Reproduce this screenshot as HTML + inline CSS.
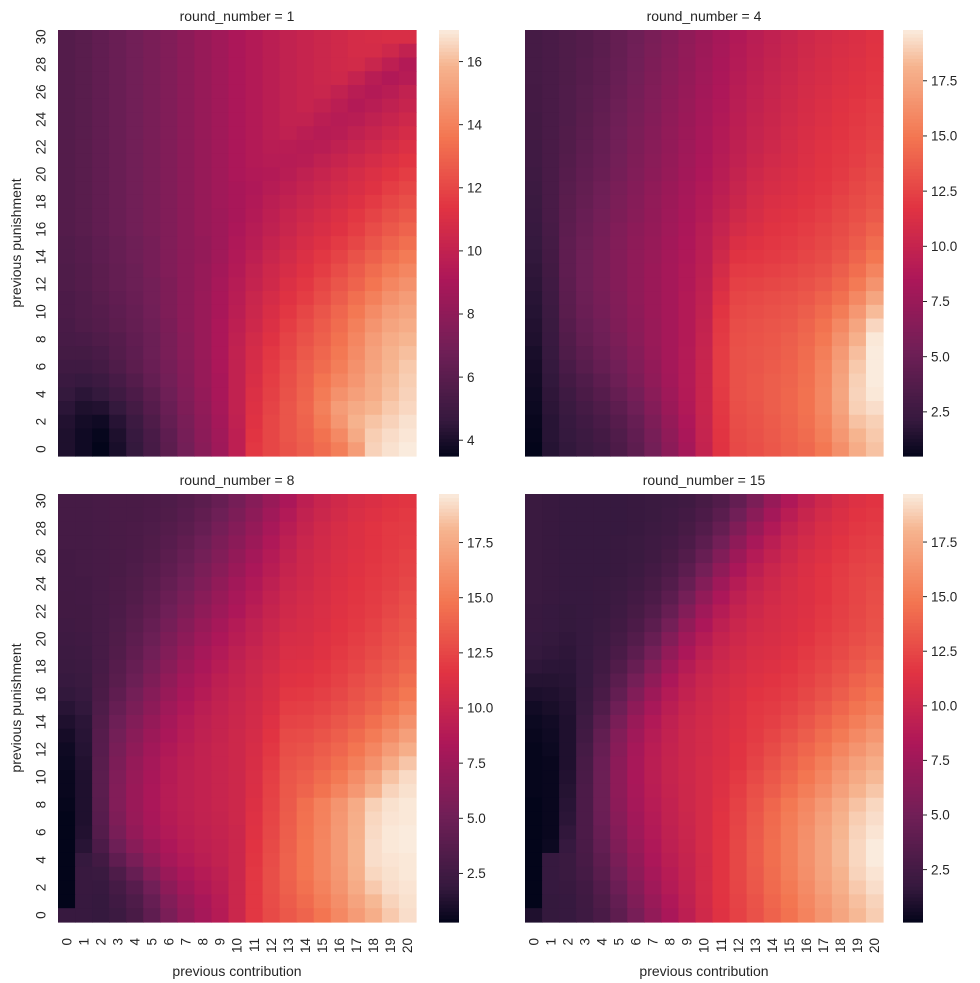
<!DOCTYPE html>
<html><head><meta charset="utf-8"><style>
html,body{margin:0;padding:0;background:#fff;}
svg{display:block;font-family:"Liberation Sans",Arial,sans-serif;}
text{fill:#262626;}
</style></head><body>
<svg id="chart" width="980" height="983" viewBox="0 0 980 983" xmlns="http://www.w3.org/2000/svg"></svg>
<script>
const contributions = [0,1,2,3,4,5,6,7,8,9,10,11,12,13,14,15,16,17,18,19,20];
const punishments = [0,1,2,3,4,5,6,7,8,9,10,11,12,13,14,15,16,17,18,19,20,21,22,23,24,25,26,27,28,29,30];
const roundNumbers = [1,4,8,15];
const cbTicks1 = [4,6,8,10,12,14,16];
const cbTicksOther = [2.5,5,7.5,10,12.5,15,17.5];
// rows listed from punishment 30 (top) down to 0 (bottom)
const round1 = [
[5.8,6.0,6.3,6.6,6.9,7.2,7.5,7.9,8.3,8.7,9.1,9.4,9.7,10.0,10.2,10.4,10.6,10.8,10.9,11.0,11.0],
[5.8,6.0,6.3,6.6,6.9,7.2,7.5,7.9,8.3,8.7,9.1,9.4,9.7,10.0,10.2,10.4,10.6,10.8,10.8,10.5,10.0],
[5.8,6.0,6.3,6.6,6.9,7.2,7.5,7.9,8.3,8.7,9.1,9.4,9.7,10.0,10.2,10.4,10.6,10.7,10.3,9.8,9.4],
[5.8,6.0,6.3,6.6,6.9,7.2,7.5,7.9,8.3,8.7,9.1,9.4,9.7,10.0,10.2,10.4,10.5,10.1,9.6,9.3,9.5],
[5.8,6.0,6.3,6.6,6.9,7.2,7.5,7.9,8.3,8.7,9.1,9.4,9.7,10.0,10.2,10.3,10.0,9.6,9.4,9.6,10.0],
[5.8,6.0,6.3,6.6,6.9,7.2,7.5,7.9,8.3,8.7,9.1,9.4,9.7,10.0,10.2,10.0,9.7,9.4,9.6,9.9,10.2],
[5.8,6.0,6.3,6.6,6.9,7.2,7.5,7.9,8.3,8.7,9.1,9.4,9.7,10.0,10.0,9.7,9.5,9.6,9.9,10.2,10.5],
[5.8,6.0,6.3,6.6,6.9,7.2,7.5,7.9,8.3,8.7,9.1,9.4,9.7,9.9,9.7,9.5,9.6,9.9,10.2,10.5,10.8],
[5.8,6.0,6.3,6.6,6.9,7.2,7.5,7.9,8.3,8.7,9.1,9.4,9.6,9.6,9.5,9.6,9.9,10.2,10.5,10.8,11.1],
[5.8,6.0,6.3,6.6,6.9,7.2,7.5,7.9,8.3,8.7,9.1,9.4,9.5,9.5,9.6,9.9,10.2,10.5,10.8,11.1,11.4],
[5.8,6.0,6.3,6.6,6.9,7.2,7.5,7.9,8.3,8.7,9.1,9.3,9.4,9.6,9.9,10.2,10.5,10.8,11.1,11.4,11.7],
[5.8,6.0,6.3,6.6,6.9,7.2,7.5,7.9,8.3,8.7,9.0,9.2,9.5,9.8,10.1,10.4,10.7,11.0,11.3,11.7,12.0],
[5.8,6.0,6.3,6.6,6.9,7.2,7.5,7.9,8.3,8.7,9.0,9.3,9.7,10.0,10.3,10.6,10.9,11.2,11.6,12.0,12.3],
[5.8,6.0,6.3,6.6,6.9,7.2,7.5,7.9,8.3,8.6,9.0,9.4,9.8,10.2,10.5,10.8,11.1,11.5,11.9,12.3,12.6],
[5.8,6.0,6.3,6.6,6.9,7.2,7.5,7.9,8.3,8.6,9.1,9.5,9.9,10.3,10.7,11.0,11.3,11.7,12.2,12.6,13.0],
[5.7,5.9,6.2,6.5,6.8,7.1,7.5,7.9,8.2,8.6,9.2,9.6,10.1,10.5,10.9,11.2,11.6,12.0,12.5,13.0,13.4],
[5.7,5.9,6.2,6.5,6.8,7.1,7.5,7.9,8.2,8.7,9.3,9.8,10.3,10.7,11.1,11.5,11.9,12.4,12.9,13.4,13.8],
[5.6,5.8,6.1,6.4,6.7,7.1,7.5,7.9,8.3,8.8,9.4,10.0,10.5,10.9,11.3,11.7,12.2,12.7,13.3,13.8,14.2],
[5.6,5.8,6.1,6.4,6.7,7.0,7.4,7.9,8.3,8.9,9.5,10.1,10.6,11.1,11.5,12.0,12.5,13.0,13.6,14.2,14.6],
[5.5,5.7,6.0,6.3,6.6,7.0,7.4,7.9,8.4,9.0,9.6,10.3,10.8,11.3,11.7,12.2,12.8,13.4,14.0,14.6,15.0],
[5.5,5.7,5.9,6.2,6.5,6.9,7.4,7.9,8.4,9.0,9.7,10.4,11.0,11.5,12.0,12.5,13.1,13.7,14.4,15.0,15.3],
[5.4,5.6,5.8,6.1,6.4,6.8,7.3,7.9,8.4,9.1,9.8,10.5,11.1,11.7,12.2,12.7,13.3,14.0,14.7,15.3,15.6],
[5.3,5.4,5.6,5.9,6.3,6.7,7.2,7.8,8.4,9.1,9.9,10.7,11.3,11.9,12.4,12.9,13.5,14.2,15.0,15.6,15.9],
[5.2,5.2,5.4,5.8,6.2,6.7,7.2,7.8,8.4,9.1,10.0,10.8,11.5,12.0,12.6,13.1,13.7,14.4,15.2,15.8,16.1],
[5.0,5.0,5.2,5.6,6.1,6.6,7.1,7.7,8.3,9.1,10.0,10.9,11.6,12.2,12.8,13.3,13.9,14.6,15.3,15.9,16.3],
[4.8,4.7,4.9,5.3,5.8,6.4,7.0,7.6,8.3,9.0,10.0,11.0,11.7,12.3,12.9,13.6,14.2,14.8,15.5,16.0,16.4],
[4.6,4.4,4.6,5.0,5.5,6.1,6.8,7.5,8.2,9.0,10.0,11.1,11.8,12.4,13.0,13.8,14.6,15.1,15.6,16.1,16.5],
[4.4,4.1,4.2,4.6,5.2,5.9,6.6,7.4,8.1,8.9,10.0,11.2,11.9,12.5,13.1,14.0,15.0,15.5,15.9,16.3,16.6],
[4.2,3.9,3.8,4.3,4.9,5.6,6.4,7.2,8.0,8.8,9.9,11.3,12.0,12.5,13.0,13.8,14.8,15.8,16.2,16.5,16.8],
[4.1,3.8,3.6,4.1,4.7,5.4,6.2,7.1,7.9,8.7,9.8,11.4,12.0,12.5,12.9,13.5,14.3,15.5,16.4,16.7,16.9],
[4.1,3.8,3.5,4.0,4.6,5.3,6.1,7.0,7.8,8.6,9.8,11.5,12.0,12.4,12.8,13.3,13.9,15.0,16.5,16.8,17.0]
];
const round4 = [
[3.0,3.2,3.5,3.8,4.2,4.7,5.2,5.8,6.4,7.0,7.6,8.2,8.8,9.3,9.7,10.1,10.5,10.8,11.1,11.3,11.6],
[3.0,3.2,3.5,3.8,4.2,4.7,5.3,5.9,6.5,7.1,7.7,8.3,8.9,9.4,9.8,10.2,10.6,10.9,11.2,11.4,11.7],
[3.0,3.2,3.5,3.9,4.3,4.8,5.4,6.0,6.6,7.2,7.8,8.4,9.0,9.5,9.9,10.3,10.7,11.0,11.3,11.5,11.8],
[3.0,3.2,3.5,3.9,4.3,4.9,5.5,6.1,6.7,7.3,7.9,8.5,9.1,9.6,10.0,10.4,10.8,11.1,11.4,11.6,11.9],
[2.9,3.2,3.6,4.0,4.4,5.0,5.6,6.2,6.8,7.4,8.0,8.6,9.2,9.7,10.1,10.5,10.9,11.2,11.5,11.7,12.0],
[2.9,3.2,3.6,4.0,4.5,5.1,5.7,6.3,6.9,7.5,8.1,8.7,9.3,9.8,10.2,10.6,11.0,11.3,11.6,11.9,12.2],
[2.8,3.2,3.6,4.1,4.6,5.2,5.8,6.4,7.0,7.6,8.2,8.8,9.4,9.9,10.3,10.7,11.1,11.4,11.7,12.0,12.3],
[2.8,3.2,3.7,4.2,4.7,5.3,5.9,6.5,7.1,7.7,8.3,8.9,9.5,10.0,10.4,10.8,11.2,11.5,11.8,12.1,12.4],
[2.7,3.2,3.7,4.3,4.8,5.4,6.0,6.6,7.2,7.8,8.4,9.0,9.6,10.1,10.5,10.9,11.3,11.6,11.9,12.2,12.5],
[2.7,3.2,3.8,4.4,4.9,5.5,6.1,6.7,7.3,7.9,8.5,9.1,9.7,10.3,10.7,11.0,11.4,11.7,12.0,12.3,12.7],
[2.6,3.2,3.9,4.5,5.0,5.6,6.2,6.8,7.4,8.0,8.6,9.2,9.9,10.5,10.9,11.2,11.5,11.8,12.1,12.5,12.9],
[2.5,3.2,4.0,4.6,5.2,5.8,6.4,7.0,7.6,8.2,8.8,9.4,10.1,10.7,11.1,11.3,11.6,11.9,12.3,12.7,13.1],
[2.4,3.2,4.1,4.7,5.3,5.9,6.5,7.1,7.7,8.3,8.9,9.6,10.3,10.9,11.3,11.5,11.8,12.1,12.5,12.9,13.3],
[2.3,3.2,4.2,4.9,5.5,6.0,6.6,7.2,7.8,8.4,9.0,9.8,10.6,11.1,11.5,11.7,12.0,12.3,12.7,13.1,13.6],
[2.2,3.1,4.3,5.0,5.6,6.2,6.8,7.3,7.9,8.5,9.2,10.0,10.9,11.3,11.7,11.9,12.2,12.5,12.9,13.4,14.0],
[2.1,3.0,4.4,5.1,5.7,6.3,6.9,7.4,8.0,8.6,9.3,10.3,11.3,11.6,11.9,12.1,12.4,12.7,13.1,13.7,14.5],
[2.0,2.9,4.4,5.2,5.8,6.4,7.0,7.5,8.1,8.7,9.4,10.6,11.7,11.9,12.1,12.3,12.6,12.9,13.4,14.1,15.0],
[1.9,2.8,4.4,5.2,5.8,6.4,7.0,7.6,8.2,8.8,9.5,10.9,12.1,12.2,12.4,12.6,12.9,13.2,13.8,14.6,15.7],
[1.8,2.7,4.3,5.2,5.8,6.4,7.0,7.6,8.2,8.8,9.6,11.2,12.4,12.5,12.7,12.9,13.2,13.6,14.2,15.2,16.5],
[1.7,2.6,4.2,5.1,5.7,6.3,7.0,7.6,8.2,8.9,9.7,11.5,12.6,12.8,13.0,13.2,13.5,14.0,14.7,15.9,17.4],
[1.6,2.5,4.1,5.0,5.6,6.2,6.9,7.6,8.2,8.9,9.8,11.8,12.8,13.0,13.2,13.4,13.8,14.4,15.3,16.7,18.4],
[1.5,2.4,3.9,4.8,5.4,6.1,6.8,7.5,8.2,8.9,9.9,12.0,13.0,13.2,13.4,13.6,14.1,14.8,15.9,17.4,19.2],
[1.4,2.3,3.7,4.6,5.2,5.9,6.7,7.5,8.2,8.9,10.0,12.1,13.1,13.3,13.5,13.8,14.3,15.1,16.4,18.0,19.7],
[1.2,2.2,3.5,4.3,5.0,5.7,6.5,7.4,8.2,9.0,10.1,12.2,13.2,13.4,13.6,13.9,14.5,15.4,16.8,18.5,19.8],
[1.1,2.1,3.2,4.0,4.7,5.4,6.3,7.2,8.1,9.0,10.2,12.2,13.2,13.4,13.7,14.0,14.6,15.6,17.1,18.8,19.8],
[1.0,2.0,2.9,3.6,4.3,5.1,6.0,7.0,8.0,9.0,10.2,12.2,13.2,13.5,13.8,14.1,14.7,15.7,17.3,19.0,19.8],
[0.9,1.9,2.6,3.3,3.9,4.7,5.6,6.7,7.8,8.9,10.2,12.1,13.2,13.5,13.8,14.2,14.8,15.8,17.4,19.1,19.7],
[0.8,1.8,2.4,3.0,3.5,4.3,5.2,6.4,7.6,8.8,10.2,12.0,13.1,13.4,13.8,14.2,14.8,15.8,17.3,19.0,19.4],
[0.7,1.7,2.2,2.7,3.2,3.9,4.8,6.0,7.3,8.6,10.1,11.9,13.0,13.3,13.7,14.1,14.7,15.6,17.0,18.6,19.0],
[0.6,1.7,2.1,2.5,2.9,3.6,4.5,5.7,7.0,8.4,10.0,11.8,12.9,13.2,13.6,14.0,14.5,15.4,16.7,18.2,18.8],
[0.5,1.6,2.0,2.4,2.7,3.4,4.3,5.5,6.8,8.2,9.9,11.7,12.8,13.1,13.5,13.9,14.3,15.1,16.3,17.8,18.6]
];
const round8 = [
[2.8,2.8,2.9,3.0,3.0,3.1,3.3,3.6,4.0,4.6,5.4,6.3,7.3,8.3,9.3,10.0,10.5,10.9,11.2,11.5,11.7],
[2.8,2.8,2.9,3.0,3.0,3.2,3.4,3.8,4.3,5.0,5.8,6.7,7.7,8.7,9.6,10.2,10.7,11.1,11.4,11.7,11.9],
[2.8,2.8,2.9,3.0,3.1,3.3,3.6,4.0,4.6,5.4,6.2,7.1,8.1,9.1,9.9,10.5,10.9,11.3,11.6,11.9,12.0],
[2.8,2.8,2.9,3.0,3.1,3.4,3.8,4.3,5.0,5.8,6.6,7.5,8.5,9.4,10.1,10.6,11.0,11.3,11.6,11.9,12.1],
[2.7,2.8,2.9,3.0,3.2,3.5,4.0,4.6,5.3,6.1,7.0,7.9,8.8,9.6,10.3,10.7,11.1,11.4,11.7,12.0,12.3],
[2.7,2.8,2.9,3.0,3.3,3.7,4.2,4.9,5.7,6.5,7.4,8.3,9.1,9.9,10.4,10.8,11.2,11.5,11.8,12.1,12.4],
[2.7,2.7,2.9,3.1,3.4,3.9,4.5,5.2,6.0,6.9,7.8,8.6,9.4,10.1,10.5,10.9,11.3,11.6,11.9,12.2,12.6],
[2.6,2.7,2.9,3.1,3.5,4.1,4.8,5.6,6.4,7.3,8.1,8.9,9.7,10.3,10.7,11.0,11.4,11.7,12.0,12.4,12.8],
[2.6,2.6,2.9,3.2,3.7,4.3,5.1,5.9,6.8,7.6,8.4,9.2,9.9,10.5,10.8,11.1,11.5,11.8,12.1,12.6,13.0],
[2.5,2.6,2.9,3.3,3.9,4.6,5.4,6.3,7.2,8.0,8.8,9.5,10.1,10.7,10.9,11.2,11.6,11.9,12.3,12.8,13.2],
[2.4,2.5,2.9,3.4,4.1,4.9,5.8,6.7,7.6,8.4,9.1,9.7,10.3,10.9,11.0,11.4,11.7,12.1,12.5,13.0,13.4],
[2.3,2.4,2.9,3.5,4.3,5.2,6.1,7.1,8.0,8.7,9.4,10.0,10.5,11.1,11.2,11.5,11.9,12.3,12.7,13.2,13.7],
[2.2,2.3,2.9,3.7,4.6,5.5,6.5,7.5,8.3,9.0,9.6,10.2,10.7,11.3,11.4,11.7,12.1,12.5,13.0,13.5,14.0],
[2.0,2.2,3.0,3.9,4.9,5.9,6.9,7.9,8.6,9.3,9.8,10.3,10.9,11.5,11.6,11.9,12.3,12.8,13.3,13.8,14.4],
[1.8,2.0,3.1,4.2,5.3,6.3,7.3,8.2,8.9,9.5,10.0,10.5,11.0,11.8,11.9,12.2,12.6,13.1,13.6,14.2,14.9],
[1.5,1.8,3.3,4.6,5.7,6.7,7.7,8.5,9.2,9.7,10.1,10.6,11.2,12.1,12.2,12.5,12.9,13.4,14.0,14.7,15.5],
[1.2,1.6,3.5,5.0,6.1,7.1,8.0,8.8,9.4,9.8,10.2,10.7,11.4,12.4,12.5,12.8,13.3,13.8,14.5,15.3,16.2],
[0.9,1.5,3.7,5.3,6.5,7.5,8.3,9.0,9.5,9.9,10.3,10.8,11.6,12.7,12.8,13.2,13.7,14.3,15.1,16.0,17.0],
[0.7,1.4,3.8,5.6,6.8,7.8,8.6,9.2,9.6,10.0,10.3,10.9,11.8,12.9,13.1,13.6,14.1,14.8,15.7,16.8,17.8],
[0.6,1.3,3.9,5.8,7.1,8.0,8.8,9.3,9.7,10.0,10.3,11.0,12.0,13.1,13.4,13.9,14.5,15.3,16.3,17.6,18.6],
[0.5,1.2,4.0,6.0,7.3,8.2,8.9,9.4,9.7,10.0,10.3,11.1,12.2,13.3,13.7,14.3,15.0,16.0,17.2,18.5,19.2],
[0.5,1.2,4.0,6.1,7.4,8.3,9.0,9.4,9.7,10.0,10.3,11.2,12.3,13.4,14.0,14.7,15.6,16.6,17.9,19.0,19.4],
[0.4,1.2,3.9,6.1,7.4,8.3,9.0,9.4,9.7,10.0,10.3,11.3,12.4,13.5,14.5,15.4,16.4,17.6,18.9,19.4,19.6],
[0.3,1.2,3.8,5.9,7.3,8.2,8.9,9.3,9.6,9.9,10.3,11.4,12.5,13.6,14.6,15.5,16.6,17.8,19.1,19.5,19.6],
[0.3,1.3,3.6,5.6,7.0,8.0,8.7,9.2,9.5,9.8,10.2,11.5,12.6,13.7,14.7,15.6,16.7,17.9,19.2,19.6,19.7],
[0.3,1.5,3.2,5.0,6.4,7.5,8.4,9.0,9.4,9.7,10.2,11.6,12.7,13.8,14.8,15.7,16.7,18.0,19.3,19.6,19.7],
[0.3,1.9,2.6,4.2,5.6,6.9,8.0,8.7,9.2,9.6,10.2,11.7,12.8,13.9,14.8,15.7,16.7,18.0,19.3,19.5,19.6],
[0.3,2.1,2.2,3.3,4.6,6.1,7.4,8.3,8.9,9.4,10.2,11.8,12.9,13.9,14.8,15.7,16.6,17.9,19.1,19.4,19.6],
[0.3,2.1,2.0,2.8,3.8,5.2,6.7,7.8,8.6,9.2,10.2,11.8,12.9,13.8,14.6,15.5,16.4,17.6,18.7,19.3,19.5],
[0.3,2.0,1.9,2.5,3.3,4.6,6.1,7.3,8.2,9.0,10.2,11.8,12.8,13.6,14.3,15.2,16.1,17.2,18.2,19.0,19.4],
[2.0,2.0,1.9,2.3,3.0,4.2,5.7,7.0,8.0,8.9,10.2,11.8,12.7,13.4,14.0,14.8,15.8,16.8,17.8,18.7,19.3]
];
const round15 = [
[2.0,1.9,1.8,1.8,1.8,1.8,1.9,2.0,2.1,2.3,2.7,3.3,4.3,5.6,7.1,8.4,9.4,10.2,10.8,11.3,11.5],
[2.0,1.9,1.8,1.8,1.8,1.8,1.9,2.0,2.2,2.5,3.0,3.8,5.0,6.4,7.8,9.0,9.9,10.6,11.1,11.5,11.7],
[2.0,1.9,1.8,1.8,1.8,1.8,1.9,2.1,2.3,2.7,3.4,4.4,5.8,7.2,8.5,9.5,10.3,10.9,11.3,11.7,11.9],
[2.0,1.9,1.8,1.8,1.8,1.9,2.0,2.2,2.5,3.0,3.9,5.1,6.6,8.0,9.1,10.0,10.6,11.1,11.5,11.9,12.1],
[2.0,1.9,1.8,1.8,1.8,1.9,2.0,2.3,2.7,3.4,4.5,5.9,7.4,8.7,9.6,10.3,10.9,11.3,11.7,12.1,12.3],
[2.0,1.9,1.8,1.8,1.8,1.9,2.1,2.5,3.0,3.9,5.2,6.7,8.1,9.2,10.0,10.6,11.1,11.5,11.9,12.3,12.5],
[2.0,1.9,1.8,1.8,1.9,2.0,2.3,2.7,3.4,4.5,6.0,7.5,8.8,9.7,10.3,10.8,11.2,11.6,12.0,12.4,12.7],
[2.0,1.9,1.8,1.8,1.9,2.1,2.5,3.0,3.9,5.2,6.8,8.2,9.3,10.0,10.5,10.9,11.2,11.6,12.0,12.4,12.8],
[1.9,1.8,1.7,1.8,1.9,2.2,2.7,3.4,4.5,6.0,7.6,8.8,9.7,10.3,10.7,11.0,11.3,11.7,12.1,12.5,12.9],
[1.9,1.8,1.7,1.8,2.0,2.4,3.0,3.9,5.2,6.8,8.2,9.3,10.0,10.5,10.8,11.1,11.4,11.8,12.2,12.6,13.0],
[1.8,1.7,1.6,1.8,2.1,2.6,3.4,4.5,6.0,7.6,8.8,9.7,10.3,10.7,10.9,11.2,11.6,12.0,12.4,12.8,13.2],
[1.7,1.6,1.5,1.8,2.2,2.9,3.9,5.2,6.8,8.2,9.3,10.0,10.5,10.9,11.1,11.4,11.8,12.2,12.6,13.1,13.5],
[1.5,1.4,1.4,1.8,2.4,3.3,4.5,6.0,7.5,8.8,9.7,10.3,10.7,11.1,11.3,11.6,12.0,12.4,12.9,13.4,13.9],
[1.2,1.2,1.3,1.8,2.6,3.8,5.2,6.7,8.2,9.3,10.0,10.5,10.9,11.3,11.5,11.8,12.2,12.7,13.2,13.8,14.3],
[0.9,1.0,1.2,1.9,2.9,4.3,5.9,7.4,8.7,9.6,10.2,10.7,11.1,11.5,11.7,12.0,12.5,13.0,13.6,14.2,14.8],
[0.6,0.8,1.1,2.0,3.3,4.9,6.6,8.0,9.1,9.9,10.4,10.8,11.2,11.7,11.9,12.3,12.8,13.4,14.0,14.7,15.3],
[0.4,0.6,1.0,2.2,3.8,5.5,7.2,8.5,9.4,10.1,10.5,10.9,11.3,11.8,12.1,12.6,13.2,13.8,14.5,15.2,15.9],
[0.3,0.5,1.0,2.4,4.2,6.0,7.6,8.8,9.6,10.2,10.6,11.0,11.4,11.9,12.4,13.0,13.6,14.3,15.0,15.8,16.5],
[0.2,0.4,1.0,2.6,4.5,6.3,7.9,9.0,9.7,10.2,10.6,11.0,11.5,12.1,12.7,13.4,14.0,14.7,15.6,16.4,17.1],
[0.2,0.3,1.0,2.8,4.7,6.5,8.0,9.1,9.8,10.3,10.7,11.1,11.6,12.3,13.0,13.7,14.4,15.2,16.1,17.0,17.7],
[0.2,0.3,1.1,2.9,4.8,6.6,8.1,9.1,9.8,10.3,10.7,11.2,11.8,12.6,13.3,14.0,14.8,15.6,16.6,17.5,18.2],
[0.2,0.3,1.2,3.0,4.8,6.6,8.0,9.0,9.7,10.2,10.7,11.3,12.0,12.9,13.6,14.4,15.2,16.0,17.0,18.0,18.6],
[0.1,0.3,1.3,3.0,4.8,6.5,7.9,8.9,9.6,10.2,10.7,11.4,12.2,13.1,14.0,14.9,15.7,16.6,17.6,18.5,19.1],
[0.1,0.3,1.4,3.0,4.7,6.3,7.7,8.7,9.5,10.1,10.7,11.5,12.3,13.3,14.2,15.1,15.9,16.9,17.9,18.8,19.3],
[0.1,0.3,1.6,3.0,4.5,6.1,7.5,8.6,9.4,10.0,10.7,11.5,12.4,13.4,14.3,15.2,16.1,17.1,18.1,19.0,19.5],
[0.1,0.4,1.8,2.9,4.3,5.8,7.2,8.4,9.3,9.9,10.7,11.6,12.5,13.5,14.4,15.3,16.2,17.2,18.2,19.1,19.7],
[0.1,1.8,2.0,2.8,4.0,5.5,6.9,8.2,9.1,9.8,10.6,11.6,12.5,13.5,14.4,15.3,16.2,17.2,18.2,19.1,19.7],
[0.1,1.8,2.0,2.6,3.7,5.1,6.6,7.9,8.9,9.7,10.6,11.6,12.5,13.4,14.3,15.2,16.1,17.1,18.0,19.0,19.5],
[0.1,1.8,1.9,2.4,3.4,4.7,6.2,7.6,8.7,9.6,10.6,11.6,12.4,13.3,14.2,15.0,15.9,16.9,17.8,18.7,19.3],
[0.1,1.7,1.8,2.3,3.1,4.3,5.8,7.2,8.4,9.4,10.5,11.5,12.3,13.1,14.0,14.8,15.7,16.6,17.5,18.4,19.0],
[1.0,1.7,1.8,2.2,2.9,4.0,5.4,6.8,8.1,9.2,10.4,11.4,12.2,13.0,13.8,14.6,15.5,16.4,17.3,18.2,18.8]
];
const panelData = [round1, round4, round8, round15];

const NS = "http://www.w3.org/2000/svg";
const svg = document.getElementById("chart");
const rocketStops = [[0,[3,5,26]],[0.083,[53,25,62]],[0.25,[112,31,87]],[0.417,[173,23,89]],[0.583,[225,51,66]],[0.75,[243,118,81]],[0.917,[246,180,143]],[1,[250,235,221]]];
function rocket(t){
  t=Math.max(0,Math.min(1,t));
  for(let i=1;i<rocketStops.length;i++){
    if(t<=rocketStops[i][0]){
      const a=rocketStops[i-1],b=rocketStops[i];const f=(t-a[0])/(b[0]-a[0]);
      const c=a[1].map((v,k)=>Math.round(v+(b[1][k]-v)*f));
      return `rgb(${c[0]},${c[1]},${c[2]})`;
    }
  }
  return "rgb(250,235,221)";
}
function mk(tag, attrs, parent){
  const e=document.createElementNS(NS,tag);
  for(const k in attrs) e.setAttribute(k,attrs[k]);
  (parent||svg).appendChild(e);
  return e;
}
function txt(s, attrs, parent){const e=mk("text",attrs,parent);e.textContent=s;return e;}

const layout = [
 {x0:58,x1:416,y0:30,y1:456,cb:439,showY:true,showX:false,ticks:cbTicks1},
 {x0:525,x1:883,y0:30,y1:456,cb:903,showY:false,showX:false,ticks:cbTicksOther},
 {x0:58,x1:416,y0:494,y1:922,cb:439,showY:true,showX:true,ticks:cbTicksOther},
 {x0:525,x1:883,y0:494,y1:922,cb:903,showY:false,showX:true,ticks:cbTicksOther}
];

layout.forEach((L,pi)=>{
  const data = panelData[pi];
  const g = mk("g",{});
  
  
  let vmin=Infinity,vmax=-Infinity;
  data.forEach(r=>r.forEach(v=>{vmin=Math.min(vmin,v);vmax=Math.max(vmax,v);}));
  const nC=contributions.length, nR=punishments.length;
  const cw=(L.x1-L.x0)/nC, ch=(L.y1-L.y0)/nR;
  const xScale = c => L.x0 + c*cw;
  const yScale = p => L.y1 - (p+1)*ch;
  data.forEach((row,ri)=>{
    const p = punishments[nR-1-ri];
    row.forEach((v,ci)=>{
      const rc = mk("rect",{x:xScale(ci).toFixed(2),y:yScale(p).toFixed(2),width:(cw+0.6).toFixed(2),height:(ch+0.6).toFixed(2),fill:rocket((v-vmin)/(vmax-vmin))},g);
      
      
    });
  });
  const t = txt("round_number = "+roundNumbers[pi],{x:(L.x0+L.x1)/2,y:L.y0-9,"text-anchor":"middle","font-size":"14"},g);
  
  
  if(L.showY){
    punishments.forEach(p=>{
      if(p%2) return;
      const cy=yScale(p)+ch/2;
      const lb=txt(String(p),{x:0,y:0,"text-anchor":"middle","font-size":"13.5",transform:`translate(${L.x0-17},${cy}) rotate(-90)`,dy:"0.35em"},g);
      
      
    });
    const yl=txt("previous punishment",{x:0,y:0,"text-anchor":"middle","font-size":"14",transform:`translate(21,${(L.y0+L.y1)/2}) rotate(-90)`},g);
    
    
  }
  if(L.showX){
    contributions.forEach((c,ci)=>{
      const cx=xScale(ci)+cw/2;
      const lb=txt(String(c),{x:0,y:0,"text-anchor":"end","font-size":"13.5",transform:`translate(${cx},${L.y1+16}) rotate(-90)`,dy:"0.35em"},g);
      
      
    });
    const xl=txt("previous contribution",{x:(L.x0+L.x1)/2,y:976,"text-anchor":"middle","font-size":"14"},g);
    
    
  }
  const cbg = mk("g",{},g);
  
  
  const H=L.y1-L.y0, steps=120;
  for(let i=0;i<steps;i++){
    mk("rect",{x:L.cb,y:(L.y1-(i+1)*H/steps).toFixed(2),width:20,height:(H/steps+0.6).toFixed(2),fill:rocket((i+0.5)/steps)},cbg);
  }
  L.ticks.forEach(tv=>{
    const y=L.y1-(tv-vmin)/(vmax-vmin)*H;
    mk("line",{x1:L.cb+20,x2:L.cb+24,y1:y,y2:y,stroke:"#262626","stroke-width":"1"},cbg);
    const lb=txt(pi===0?String(tv):tv.toFixed(1),{x:L.cb+28,y:y,"font-size":"13.5",dy:"0.35em"},cbg);
    
    
  });
});
</script>
</body></html>
